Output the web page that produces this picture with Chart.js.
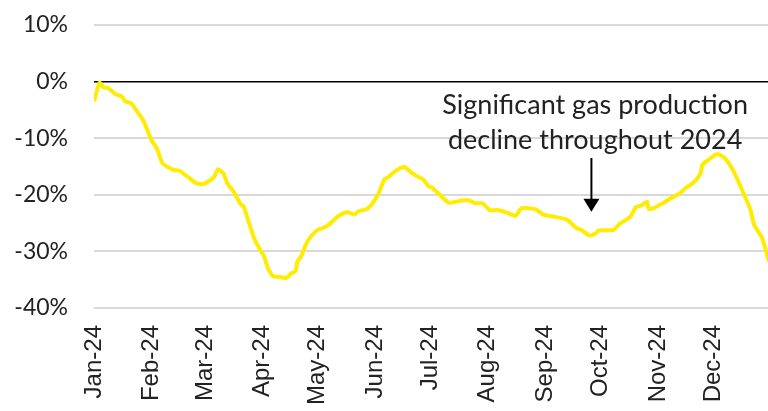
<!DOCTYPE html>
<html>
<head>
<meta charset="utf-8">
<script src="https://cdn.jsdelivr.net/npm/chart.js@4"></script>
<style>
    html, body { margin: 0; padding: 0; background: #fff; }
    #wrap { width: 768px; height: 411px; }
</style>
</head>
<body>
<div id="wrap"><canvas id="chart"></canvas></div>
<script>
// ─── DATA ─────────────────────────────────────────────────
// day of year (0 = 1 Jan 2024) and year-on-year change, %
const days = [0, 3, 5, 8, 12, 15, 17, 20, 24, 27, 31, 34, 37, 43, 46, 51, 55, 59, 62, 65, 67, 70, 72, 76, 79, 81, 83, 87, 90, 92, 94, 97, 100, 104, 107, 109, 110, 112, 115, 118, 121, 125, 128, 132, 137, 141, 143, 147, 150, 154, 157, 159, 164, 168, 171, 174, 178, 181, 183, 187, 192, 199, 203, 206, 210, 214, 218, 223, 228, 231, 236, 239, 243, 248, 255, 257, 261, 264, 268, 271, 273, 281, 284, 290, 293, 296, 299, 300, 303, 308, 312, 317, 320, 325, 328, 329, 332, 337, 341, 345, 348, 352, 355, 357, 361, 363, 365]
const change = [-3.5, -0.2, -1.0, -1.2, -2.3, -2.6, -3.5, -3.8, -5.6, -7.1, -10.3, -11.8, -14.4, -15.6, -15.7, -16.9, -17.9, -18.1, -17.6, -16.8, -15.5, -16.2, -17.9, -19.7, -21.5, -22.1, -24.1, -28.0, -29.8, -30.9, -32.9, -34.4, -34.5, -34.7, -33.8, -33.5, -31.8, -30.9, -28.5, -27.1, -26.2, -25.7, -25.0, -23.8, -23.1, -23.5, -22.9, -22.6, -21.8, -19.7, -17.3, -16.9, -15.6, -15.1, -15.9, -16.6, -17.3, -18.5, -18.8, -20.0, -21.4, -21.0, -21.0, -21.5, -21.5, -22.7, -22.7, -23.1, -23.7, -22.4, -22.4, -22.6, -23.5, -23.8, -24.3, -24.7, -25.9, -26.3, -27.2, -26.9, -26.3, -26.2, -25.2, -23.9, -22.2, -21.9, -21.2, -22.5, -22.3, -21.4, -20.6, -19.7, -18.8, -17.6, -16.2, -14.7, -13.9, -12.8, -13.5, -15.3, -17.3, -20.3, -22.6, -25.3, -27.4, -29.4, -31.8]

const monthStarts = [0, 31, 60, 91, 121, 152, 182, 213, 244, 274, 305, 335]
const monthLabels = ['Jan-24', 'Feb-24', 'Mar-24', 'Apr-24', 'May-24', 'Jun-24', 'Jul-24', 'Aug-24', 'Sep-24', 'Oct-24', 'Nov-24', 'Dec-24']
const yTicks = [10, 0, -10, -20, -30, -40]

const noteLines = ['Significant gas production', 'decline throughout 2024']

// ─── ANNOTATION ───────────────────────────────────────────
const notePlugin = {
    id: 'note',
    afterDatasetsDraw(chart) {
        const { ctx, scales: { x, y } } = chart
        ctx.save()
        ctx.fillStyle = '#222'
        ctx.font = '27px Lato'
        ctx.textAlign = 'center'
        ctx.textBaseline = 'middle'
        const cx = x.getPixelForValue(271)
        ctx.fillText(noteLines[0], cx, y.getPixelForValue(-4.1))
        ctx.fillText(noteLines[1], cx, y.getPixelForValue(-10.3))

        // arrow
        const ax = x.getPixelForValue(269)
        const top = y.getPixelForValue(-13.5)
        const tip = y.getPixelForValue(-23.0)
        ctx.strokeStyle = '#000'
        ctx.lineWidth = 2
        ctx.beginPath()
        ctx.moveTo(ax, top)
        ctx.lineTo(ax, tip - 12)
        ctx.stroke()
        ctx.fillStyle = '#000'
        ctx.beginPath()
        ctx.moveTo(ax - 8, tip - 13)
        ctx.lineTo(ax + 8, tip - 13)
        ctx.lineTo(ax, tip)
        ctx.closePath()
        ctx.fill()
        ctx.restore()
    }
}

// ─── CHART ────────────────────────────────────────────────
new Chart(document.getElementById('chart'), {
    type: 'line',
    data: {
        datasets: [{
            data: days.map((d, i) => ({ x: d, y: change[i] })),
            borderColor: '#ffec00',
            borderWidth: 4,
            pointRadius: 0,
            tension: 0.2,
            fill: false
        }]
    },
    options: {
        responsive: true,
        maintainAspectRatio: false,
        animation: false,
        layout: { padding: { top: 0, right: 0, left: 0, bottom: 0 } },
        plugins: { legend: { display: false }, tooltip: { enabled: false } },
        scales: {
            x: {
                type: 'linear',
                min: 0,
                max: 364.5,
                grid: { display: false, drawTicks: false },
                border: { display: false },
                afterBuildTicks: scale => { scale.ticks = monthStarts.map(v => ({ value: v })) },
                afterFit: scale => { scale.height = 103; scale.paddingTop = 0; scale.paddingBottom = 0 },
                ticks: {
                    autoSkip: false,
                    minRotation: 90,
                    maxRotation: 90,
                    padding: 17,
                    color: '#222',
                    font: { family: 'Liberation Sans', size: 24 },
                    callback: (v) => monthLabels[monthStarts.indexOf(v)]
                }
            },
            y: {
                min: -40,
                max: 10,
                afterBuildTicks: scale => { scale.ticks = yTicks.map(v => ({ value: v })) },
                afterFit: scale => { scale.width = 94; scale.paddingTop = 25; scale.paddingBottom = 0 },
                grid: {
                    drawTicks: false,
                    color: c => c.tick && c.tick.value === 0 ? '#000' : '#d9d9d9',
                    lineWidth: c => c.tick && c.tick.value === 0 ? 1.5 : 2
                },
                border: { display: false },
                ticks: {
                    padding: 26,
                    color: '#222',
                    font: { family: 'Lato', size: 23 },
                    callback: v => v + '%'
                }
            }
        }
    },
    plugins: [notePlugin]
})
</script>
</body>
</html>
